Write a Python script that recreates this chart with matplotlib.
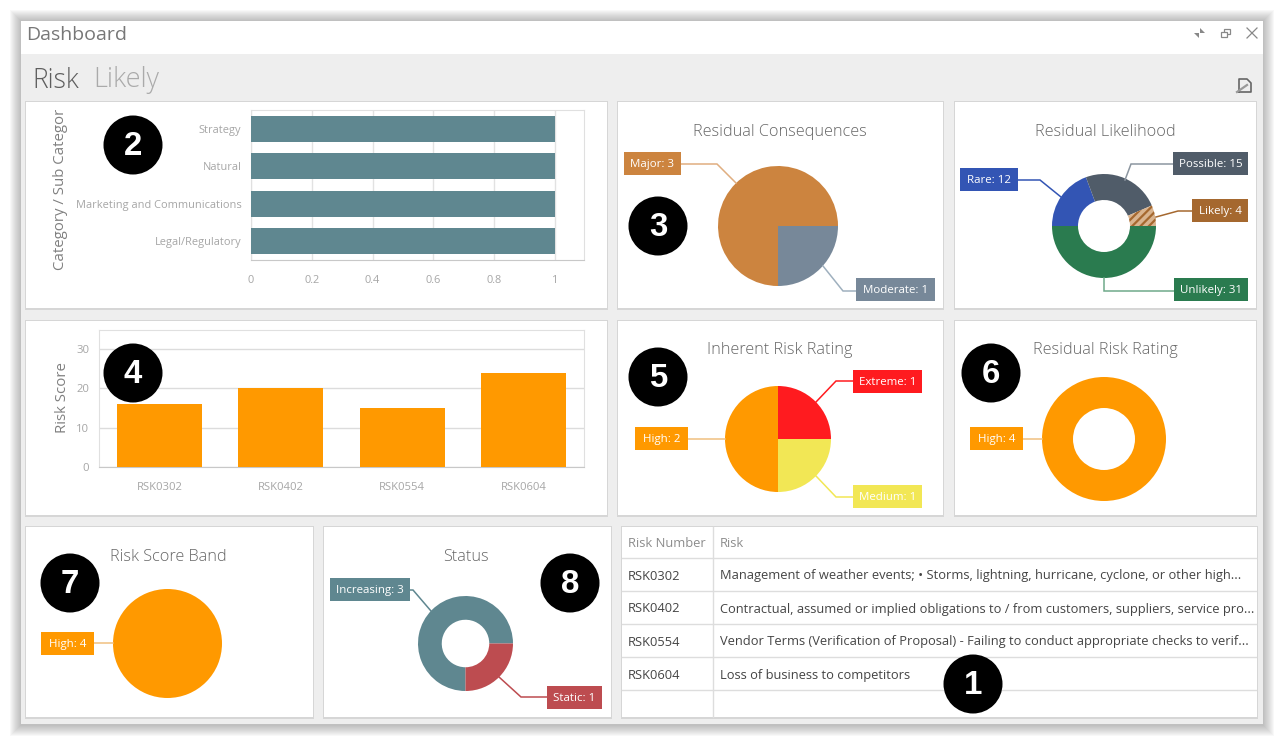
import matplotlib
matplotlib.use('Agg')
from matplotlib import pyplot as plt
from matplotlib.patches import Rectangle, Circle, Polygon
from matplotlib.ticker import FixedLocator

W, H = 1284, 744
FONT = 'Open Sans'
plt.rcParams['font.family'] = [FONT, 'DejaVu Sans']
plt.rcParams['hatch.linewidth'] = 1.6

# chart data
categories = ['Legal/Regulatory', 'Marketing and Communications', 'Natural', 'Strategy']
category_counts = [1, 1, 1, 1]
category_ticks = [0, 0.2, 0.4, 0.6, 0.8, 1]
category_ticklabels = ['0', '0.2', '0.4', '0.6', '0.8', '1']

risk_numbers = ['RSK0302', 'RSK0402', 'RSK0554', 'RSK0604']
risk_scores = [16, 20, 15, 24]
score_ticks = [0, 10, 20, 30]

consequence_labels = ['Major', 'Moderate']
consequence_values = [3, 1]
likelihood_labels = ['Rare', 'Possible', 'Likely', 'Unlikely']
likelihood_values = [12, 15, 4, 31]
inherent_labels = ['Extreme', 'Medium', 'High']
inherent_values = [1, 1, 2]
residual_labels = ['High']
residual_values = [4]
band_labels = ['High']
band_values = [4]
status_labels = ['Increasing', 'Static']
status_values = [3, 1]

table_header = ['Risk Number', 'Risk']
table_risks = [
    'Management of weather events; \u2022 Storms, lightning, hurricane, cyclone, or other high...',
    'Contractual, assumed or implied obligations to / from customers, suppliers, service pro...',
    'Vendor Terms (Verification of Proposal) - Failing to conduct appropriate checks to verif...',
    'Loss of business to competitors',
]

TEAL = '#5F8790'
ORANGE = '#FF9900'


def pt(px):
    return px * 0.72


def px_axes(left, top, right, bottom, zorder=2):
    return fig.add_axes([left / W, 1 - bottom / H, (right - left) / W, (bottom - top) / H], zorder=zorder)


fig = plt.figure(figsize=(W / 100, H / 100), dpi=100, facecolor='white')

bg = fig.add_axes([0, 0, 1, 1], zorder=0)
bg.set_xlim(0, W)
bg.set_ylim(H, 0)
bg.axis('off')
fg = fig.add_axes([0, 0, 1, 1], zorder=10)
fg.set_xlim(0, W)
fg.set_ylim(H, 0)
fg.axis('off')
fg.patch.set_alpha(0)


def rect(ax, x0, y0, x1, y1, **kw):
    ax.add_patch(Rectangle((x0, y0), x1 - x0, y1 - y0, **kw))


# window with soft shadow
for i in range(11, 0, -1):
    rect(bg, 21 - i, 21 - i, 1263 + i, 724 + i + 1, fc='#666666', ec='none', alpha=0.045)
rect(bg, 21, 21, 1263, 724, fc='#EEEEEE', ec='none')
rect(bg, 21, 21, 1263, 54, fc='white', ec='none')
bg.text(26, 35, 'Dashboard', fontsize=pt(19.5), color='#777777', va='center')
bg.text(32.5, 80.5, 'Risk', fontsize=pt(26.5), color='#5E5E5E', va='center', fontweight='light')
bg.text(93.5, 80.5, 'Likely', fontsize=pt(27), color='#AAAAAA', va='center', fontweight='light')

# window buttons
bg.plot([1247, 1257], [28, 38], color='#888888', lw=0.9)
bg.plot([1247, 1257], [38, 28], color='#888888', lw=0.9)
rect(bg, 1224, 29, 1230, 34, fc='white', ec='#888888', lw=0.9)
rect(bg, 1221, 32, 1227, 37, fc='white', ec='#888888', lw=0.9)
bg.add_patch(Polygon([(1194, 33), (1199, 33), (1199, 38)], fc='#888888', ec='none'))
bg.add_patch(Polygon([(1200, 28), (1200, 33), (1205, 33)], fc='#888888', ec='none'))
# export icon
bg.plot([1239, 1239, 1247, 1251, 1251, 1239], [92, 79, 79, 83, 92, 92], color='#666666', lw=1.2)
bg.plot([1237, 1247], [92, 85], color='#999999', lw=1.6)

# panels
panels = [(25, 101, 607, 308), (617, 101, 943, 308), (954, 101, 1256, 308),
          (25, 320, 607, 515), (617, 320, 943, 515), (954, 320, 1256, 515),
          (25, 526, 313, 717), (323, 526, 611, 717), (621, 526, 1257, 717)]
for x0, y0, x1, y1 in panels:
    rect(bg, x0, y0, x1 + 1, y1 + 1.5, fc='#D6D6D6', ec='none')
    rect(bg, x0 + 1, y0 + 1, x1, y1, fc='white', ec='none')

# category bar chart
ax = px_axes(251, 110, 584, 260)
ax.barh(categories, category_counts, height=0.7, color=TEAL, zorder=3)
ax.set_xlim(0, 333 / 304)
ax.set_ylim(-0.5, 3.5)
ax.xaxis.set_major_locator(FixedLocator(category_ticks))
ax.set_xticklabels(category_ticklabels)
ax.grid(axis='x', color='#E2E2E2', lw=1, zorder=0)
ax.tick_params(length=0, labelsize=pt(11), labelcolor='#A6A6A6')
ax.tick_params(axis='x', pad=11)
ax.tick_params(axis='y', pad=7)
for name, spine in ax.spines.items():
    spine.set_color('#E0E0E0')
ax.spines['bottom'].set_color('#C8C8C8')
ylabel = bg.text(61, 270, 'Category / Sub Category', rotation=90, fontsize=pt(15), color='#808080',
                 ha='center', va='bottom', clip_on=True)
ylabel.set_clip_path(Rectangle((40, 110), 40, 165, transform=bg.transData))

# risk score chart
ax = px_axes(99, 330, 584, 467)
ax.bar(risk_numbers, risk_scores, width=0.7, color=ORANGE, zorder=3)
ax.set_xlim(-0.5, 3.5)
ax.set_ylim(0, 137 / 3.93)
ax.yaxis.set_major_locator(FixedLocator(score_ticks))
ax.grid(axis='y', color='#DCDCDC', lw=1, zorder=0)
ax.tick_params(length=0, labelsize=pt(11.2), labelcolor='#A6A6A6')
ax.tick_params(axis='x', pad=11)
ax.tick_params(axis='y', pad=7)
for name, spine in ax.spines.items():
    spine.set_color('#E0E0E0')
ax.spines['bottom'].set_color('#C8C8C8')
bg.text(62, 398, 'Risk Score', rotation=90, fontsize=pt(15), color='#808080', ha='center', va='center')


def draw_pie(cx, cy, r, values, colors, start, hole=0.0):
    ax = px_axes(cx - r - 1, cy - r - 1, cx + r + 1, cy + r + 1)
    wedgeprops = dict(linewidth=0)
    if hole:
        wedgeprops['width'] = 1 - hole
    wedges, _ = ax.pie(values, colors=colors, startangle=start, counterclock=False,
                       radius=1, wedgeprops=wedgeprops)
    lim = (r + 1) / r
    ax.set_xlim(-lim, lim)
    ax.set_ylim(-lim, lim)
    return wedges


def callout(label, value, box, color, path, line_color=None):
    x0, y0, x1, y1 = box
    xs, ys = zip(*path)
    fg.plot(xs, ys, color=line_color or color, lw=1.1, solid_joinstyle='miter')
    rect(fg, x0, y0, x1, y1, fc=color, ec='none', zorder=4)
    fg.text((x0 + x1) / 2, (y0 + y1) / 2 + 0.8, f'{label}: {value}', color='white', fontsize=pt(11.5),
            ha='center', va='center', zorder=5)


def chart_title(x, y, text):
    bg.text(x, y + 2, text, fontsize=pt(16.2), color='#666666', ha='center', va='center', fontweight='light')


# residual consequences
chart_title(780, 130, 'Residual Consequences')
cons_colors = ['#CC843F', '#778899']
draw_pie(778, 226, 60, consequence_values, cons_colors, 270)
callout(consequence_labels[0], consequence_values[0], (624, 152, 681, 175), cons_colors[0],
        [(681, 164), (717, 164), (736, 183)], '#E0AE80')
callout(consequence_labels[1], consequence_values[1], (856, 278, 935, 301), cons_colors[1],
        [(856, 291), (843, 291), (823, 266)], '#9FB0BE')

# residual likelihood
chart_title(1105, 130, 'Residual Likelihood')
like_colors = ['#3355B4', '#505C69', '#A5682F', '#2A7B4F']
wedges = draw_pie(1104, 226, 52, likelihood_values, like_colors, 180, hole=0.5)
wedges[2].set_facecolor('#D9B48F')
wedges[2].set_hatch('////')
wedges[2].set_edgecolor('#A5682F')
wedges[2].set_linewidth(0)
callout(likelihood_labels[0], likelihood_values[0], (960, 168, 1018, 191), like_colors[0],
        [(1018, 180), (1040, 180), (1061, 197)])
callout(likelihood_labels[1], likelihood_values[1], (1173, 152, 1248, 175), like_colors[1],
        [(1173, 164), (1131, 164), (1125, 180)], '#8C96A0')
callout(likelihood_labels[2], likelihood_values[2], (1192, 199, 1248, 222), like_colors[2],
        [(1192, 211), (1178, 211), (1156, 217)])
callout(likelihood_labels[3], likelihood_values[3], (1174, 278, 1248, 301), like_colors[3],
        [(1174, 291), (1104, 291), (1104, 278)], '#6FA98A')

# inherent risk rating
chart_title(780, 348, 'Inherent Risk Rating')
inh_colors = ['#FF1B1F', '#F2E755', ORANGE]
draw_pie(778, 439, 53, inherent_values, inh_colors, 90)
callout(inherent_labels[0], inherent_values[0], (853, 370, 922, 393), inh_colors[0],
        [(853, 381), (836, 381), (816, 402)])
callout(inherent_labels[1], inherent_values[1], (853, 485, 922, 508), inh_colors[1],
        [(853, 497), (836, 497), (816, 476)])
callout(inherent_labels[2], inherent_values[2], (635, 427, 688, 450), inh_colors[2],
        [(688, 439), (725, 439)], '#F0C080')

# residual risk rating
chart_title(1105, 348, 'Residual Risk Rating')
draw_pie(1104, 439, 62, residual_values, [ORANGE], 90, hole=0.5)
callout(residual_labels[0], residual_values[0], (970, 427, 1023, 450), ORANGE,
        [(1023, 439), (1042, 439)], '#F0C080')

# risk score band
chart_title(168, 555, 'Risk Score Band')
draw_pie(167.5, 643.5, 54.5, band_values, [ORANGE], 90)
callout(band_labels[0], band_values[0], (41, 632, 94, 655), ORANGE,
        [(94, 643), (113, 643)], '#F0C080')

# status
chart_title(466, 555, 'Status')
status_colors = [TEAL, '#BD4C50']
draw_pie(465.5, 643.5, 47.5, status_values, status_colors, 270, hole=0.5)
callout(status_labels[0], status_values[0], (330, 578, 410, 601), status_colors[0],
        [(410, 590), (413, 590), (431, 611)])
callout(status_labels[1], status_values[1], (547, 686, 602, 709), status_colors[1],
        [(547, 697), (521, 697), (499, 677)])

# table
row_lines = [558, 591, 624, 657, 690]
for y in row_lines:
    bg.plot([622, 1256], [y, y], color='#DDDDDD', lw=1)
bg.plot([713, 713], [527, 717], color='#DDDDDD', lw=1)
bg.text(628, 543.5, table_header[0], fontsize=pt(12.85), color='#8C8C8C', va='center')
bg.text(720, 543.5, table_header[1], fontsize=pt(12.85), color='#8C8C8C', va='center')
for y, number, risk in zip([576, 609, 642, 675.5], risk_numbers, table_risks):
    bg.text(628, y, number, fontsize=pt(12.85), color='#444444', va='center')
    bg.text(720, y, risk, fontsize=pt(12.85), color='#444444', va='center')

# numbered badges
badges = [('2', 133, 145), ('3', 658, 226), ('4', 133, 373), ('5', 658, 377),
          ('6', 991, 373), ('7', 70, 583), ('8', 570, 583), ('1', 973, 684)]
for num, x, y in badges:
    fg.add_patch(Circle((x, y), 29.5, fc='black', ec='none', zorder=6))
    fg.text(x, y + 1.5, num, color='white', fontsize=pt(33), fontweight='bold', family='Liberation Sans',
            ha='center', va='center', zorder=7)

fig.savefig('out.png', dpi=100)
